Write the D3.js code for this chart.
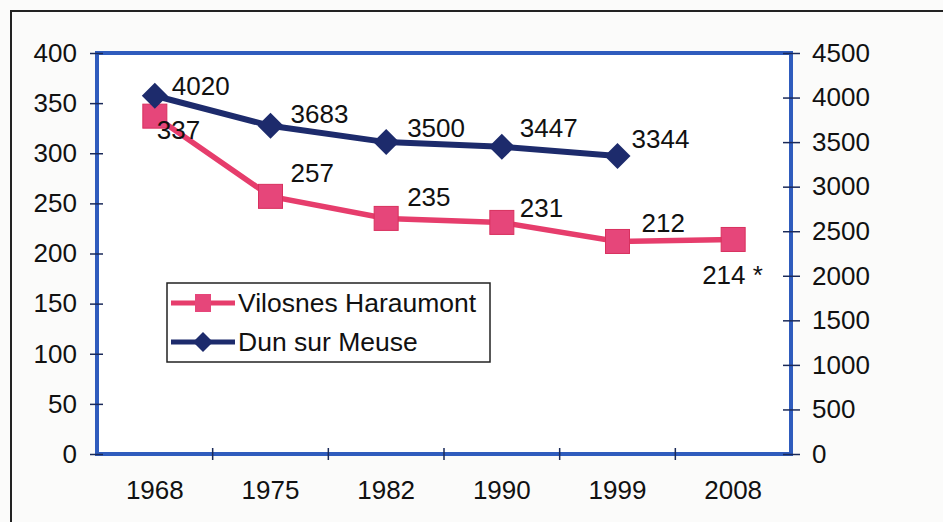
<!DOCTYPE html>
<html>
<head>
<meta charset="utf-8">
<script src="https://cdn.jsdelivr.net/npm/d3@7"></script>
<style>
  body { margin: 0; background: #fbfbfa; }
  svg { display: block; }
  text { font-family: "Liberation Sans", Arial, sans-serif; fill: #111; }
</style>
</head>
<body>
<svg id="chart" width="943" height="522"></svg>
<script>
const years = ["1968", "1975", "1982", "1990", "1999", "2008"];
const vilosnes = [337, 257, 235, 231, 212, 214];
const dun = [4020, 3683, 3500, 3447, 3344, null];
const vilosnesLabels = ["337", "257", "235", "231", "212", "214 *"];
const dunLabels = ["4020", "3683", "3500", "3447", "3344", ""];
const leftTicks = d3.range(0, 401, 50);
const rightTicks = d3.range(0, 4501, 500);

// label offsets from the marker centre (dx, dy), picked by eye
const redOffsets = [[2, 23], [20, -14], [21, -12], [18, -5], [24, -9], [-31, 45]];
const blueOffsets = [[17, -1], [20, -3], [21, -5], [18, -10], [14, -8]];

const plot = {left: 97, right: 791, top: 53, bottom: 454};
const redCol = "#e63d6c", redFill = "#e6467a";
const blueCol = "#1d2b6c";
const axisCol = "#2f5cbd";
const fs = "26px";

const svg = d3.select("#chart");

// outer frame (only top and left visible in the scan)
svg.append("path")
    .attr("d", "M11,522 V11 H943")
    .attr("fill", "none")
    .attr("stroke", "#222")
    .attr("stroke-width", 2);

const x = d3.scaleBand().domain(years).range([plot.left, plot.right]);
const yL = d3.scaleLinear().domain([0, 400]).range([plot.bottom, plot.top]);
const yR = d3.scaleLinear().domain([0, 4500]).range([plot.bottom, plot.top]);

// plot area frame
svg.append("rect")
    .attr("x", plot.left).attr("y", plot.top)
    .attr("width", plot.right - plot.left)
    .attr("height", plot.bottom - plot.top)
    .attr("fill", "#fff")
    .attr("stroke", axisCol)
    .attr("stroke-width", 4);

// left axis
const gl = svg.append("g").attr("transform", `translate(${plot.left},0)`)
    .call(d3.axisLeft(yL).tickValues(leftTicks).tickSize(7).tickPadding(13));
gl.selectAll(".tick line").attr("x2", -7).attr("x1", 6).attr("stroke", "#1a2a5a").attr("stroke-width", 1.5);
// right axis
const gr = svg.append("g").attr("transform", `translate(${plot.right},0)`)
    .call(d3.axisRight(yR).tickValues(rightTicks).tickFormat(d3.format("d")).tickSize(9).tickPadding(12));
gr.selectAll(".tick line").attr("x1", -8).attr("x2", 9).attr("stroke", "#1a2a5a").attr("stroke-width", 1.5);
// bottom axis with ticks between categories
const gb = svg.append("g").attr("transform", `translate(0,${plot.bottom})`)
    .call(d3.axisBottom(x).tickSize(0).tickPadding(27));
gb.selectAll(".tick line").remove();
svg.selectAll("g.cross")
    .data(years.slice(1))
    .enter().append("line")
    .attr("x1", d => x(d)).attr("x2", d => x(d))
    .attr("y1", plot.bottom - 6).attr("y2", plot.bottom + 6)
    .attr("stroke", "#1a2a5a").attr("stroke-width", 1.5);

[gl, gr, gb].forEach(g => {
    g.select(".domain").remove();
    g.selectAll("text").style("font-size", fs).attr("fill", "#111");
});

const cx = d => x(d) + x.bandwidth() / 2;

// Vilosnes Haraumont (left axis)
const redData = years.map((y, i) => ({year: y, v: vilosnes[i], label: vilosnesLabels[i], off: redOffsets[i]}));
svg.append("path")
    .datum(redData)
    .attr("fill", "none")
    .attr("stroke", redCol)
    .attr("stroke-width", 5.5)
    .attr("d", d3.line().x(d => cx(d.year)).y(d => yL(d.v)));
svg.selectAll("rect.red")
    .data(redData)
    .enter().append("rect")
    .attr("x", d => cx(d.year) - 12)
    .attr("y", d => yL(d.v) - 12)
    .attr("width", 24).attr("height", 24)
    .attr("fill", redFill)
    .attr("stroke", "#d8305e").attr("stroke-width", 1);
svg.selectAll("text.red")
    .data(redData)
    .enter().append("text")
    .attr("x", d => cx(d.year) + d.off[0])
    .attr("y", d => yL(d.v) + d.off[1])
    .style("font-size", fs)
    .text(d => d.label);

// Dun sur Meuse (right axis)
const blueData = years.map((y, i) => ({year: y, v: dun[i], label: dunLabels[i], off: blueOffsets[i]}))
    .filter(d => d.v !== null);
svg.append("path")
    .datum(blueData)
    .attr("fill", "none")
    .attr("stroke", blueCol)
    .attr("stroke-width", 6)
    .attr("d", d3.line().x(d => cx(d.year)).y(d => yR(d.v)));
svg.selectAll("path.dia")
    .data(blueData)
    .enter().append("path")
    .attr("transform", d => `translate(${cx(d.year)},${yR(d.v)})`)
    .attr("d", "M0,-13 L13,0 L0,13 L-13,0 Z")
    .attr("fill", blueCol);
svg.selectAll("text.blue")
    .data(blueData)
    .enter().append("text")
    .attr("x", d => cx(d.year) + d.off[0])
    .attr("y", d => yR(d.v) + d.off[1])
    .style("font-size", fs)
    .text(d => d.label);

// legend
const lg = svg.append("g");
lg.append("rect")
    .attr("x", 167).attr("y", 283).attr("width", 323).attr("height", 79)
    .attr("fill", "#fff").attr("stroke", "#222").attr("stroke-width", 1.5);
const items = [
    {name: "Vilosnes Haraumont", color: redCol, mark: "square"},
    {name: "Dun sur Meuse", color: blueCol, mark: "diamond"}
];
items.forEach((it, i) => {
    const yy = 303 + i * 39;
    lg.append("line")
        .attr("x1", 171).attr("x2", 235).attr("y1", yy).attr("y2", yy)
        .attr("stroke", it.color).attr("stroke-width", 5);
    if (it.mark === "square") {
        lg.append("rect").attr("x", 195).attr("y", yy - 9).attr("width", 16).attr("height", 18).attr("fill", redFill);
    } else {
        lg.append("path").attr("transform", `translate(203,${yy})`)
            .attr("d", "M0,-10 L10,0 L0,10 L-10,0 Z").attr("fill", it.color);
    }
    lg.append("text")
        .attr("x", 238).attr("y", yy + 9)
        .style("font-size", "26.5px")
        .text(it.name);
});
</script>
</body>
</html>
